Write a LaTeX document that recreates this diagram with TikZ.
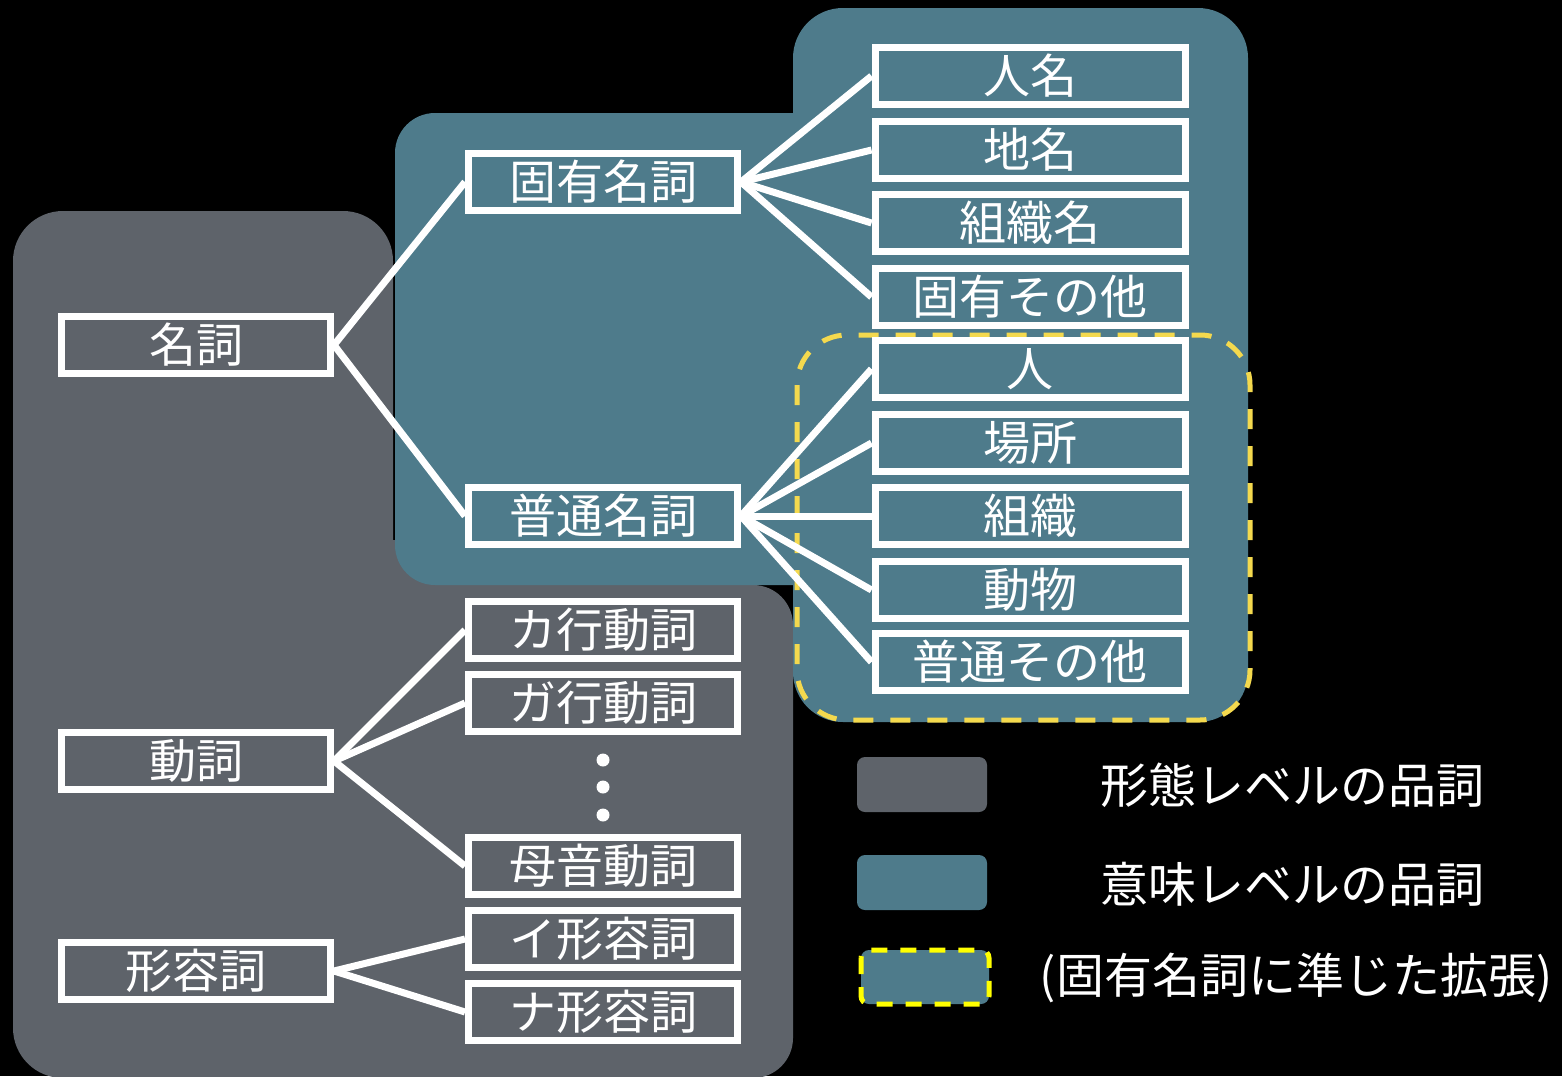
\documentclass[tikz,border=0pt]{standalone}
\usepackage{fontspec}
\newfontfamily\jp{Noto Sans CJK JP}
\definecolor{morph}{HTML}{5E636A}
\definecolor{sem}{HTML}{4E7B8B}
\definecolor{dashy}{HTML}{F4D94E}
\definecolor{legy}{HTML}{FFFF00}
\begin{document}
\begin{tikzpicture}[x=1pt,y=-1pt,
  jpfont/.style={font=\jp\fontsize{47}{52}\selectfont},
  wbox/.style={draw=white, line width=7pt, minimum width=269pt, minimum height=57pt,
    inner sep=0pt, text=white, jpfont},
  rbox/.style={wbox, minimum width=310pt},
  link/.style={draw=white, line width=7pt},
  legtext/.style={text=white, font=\jp\fontsize{48}{52}\selectfont, inner sep=0pt}]
\useasboundingbox (0,0) rectangle (1562,1076);
\fill[black] (0,0) rectangle (1562,1076);
% morphological level regions
\fill[morph, rounded corners=50pt] (13,211) rectangle (393,1078);
\fill[morph, rounded corners=40pt] (300,585) rectangle (793,1078);
\fill[morph] (380,540) rectangle (440,600);
% semantic level regions
\fill[sem, rounded corners=40pt] (395,113) rectangle (850,585);
\fill[sem, rounded corners=50pt] (793,8) rectangle (1248,722);
% extension dashed region
\draw[dashy, line width=5pt, dash pattern=on 20pt off 17pt, rounded corners=50pt]
  (797,335) rectangle (1250,720);
% nodes
\node[wbox] (meishi) at (196,345) {名詞};
\node[wbox] (doushi) at (196,761) {動詞};
\node[wbox] (keiyoushi) at (196,971) {形容詞};
\node[wbox] (koyuu) at (603,182) {固有名詞};
\node[wbox] (futsuu) at (603,516) {普通名詞};
\node[wbox] (ka) at (603,630) {カ行動詞};
\node[wbox] (ga) at (603,703) {ガ行動詞};
\node[wbox] (boin) at (603,866) {母音動詞};
\node[wbox] (ikei) at (603,939) {イ形容詞};
\node[wbox] (nakei) at (603,1012) {ナ形容詞};
\node[rbox] (jinmei) at (1030,76) {人名};
\node[rbox] (chimei) at (1030,150) {地名};
\node[rbox] (soshikimei) at (1030,223) {組織名};
\node[rbox] (koyuusonota) at (1030,297) {固有その他};
\node[rbox] (hito) at (1030,369) {人};
\node[rbox] (basho) at (1030,443) {場所};
\node[rbox] (soshiki) at (1030,516) {組織};
\node[rbox] (doubutsu) at (1030,590) {動物};
\node[rbox] (futsuusonota) at (1030,662) {普通その他};
% dots
\fill[white] (603,760) circle (6.5pt);
\fill[white] (603,787) circle (6.5pt);
\fill[white] (603,815) circle (6.5pt);
% connectors
\draw[link] (meishi.east) -- (koyuu.west);
\draw[link] (meishi.east) -- (futsuu.west);
\draw[link] (doushi.east) -- (ka.west);
\draw[link] (doushi.east) -- (ga.west);
\draw[link] (doushi.east) -- (boin.west);
\draw[link] (keiyoushi.east) -- (ikei.west);
\draw[link] (keiyoushi.east) -- (nakei.west);
\foreach \c in {jinmei,chimei,soshikimei,koyuusonota}
  \draw[link] (koyuu.east) -- (\c.west);
\foreach \c in {hito,basho,soshiki,doubutsu,futsuusonota}
  \draw[link] (futsuu.east) -- (\c.west);
% legend
\fill[morph, rounded corners=8pt] (857,757) rectangle (987,812);
\fill[sem, rounded corners=8pt] (857,855) rectangle (987,910);
\draw[legy, fill=sem, line width=5pt, dash pattern=on 16pt off 13pt, rounded corners=8pt]
  (861,950) rectangle (989,1004);
\node[legtext] (leg1) at (1292,785) {形態レベルの品詞};
\node[legtext] (leg2) at (1292,884) {意味レベルの品詞};
\node[legtext] (leg3) at (1296,978) {(固有名詞に準じた拡張)};
\end{tikzpicture}
\end{document}
